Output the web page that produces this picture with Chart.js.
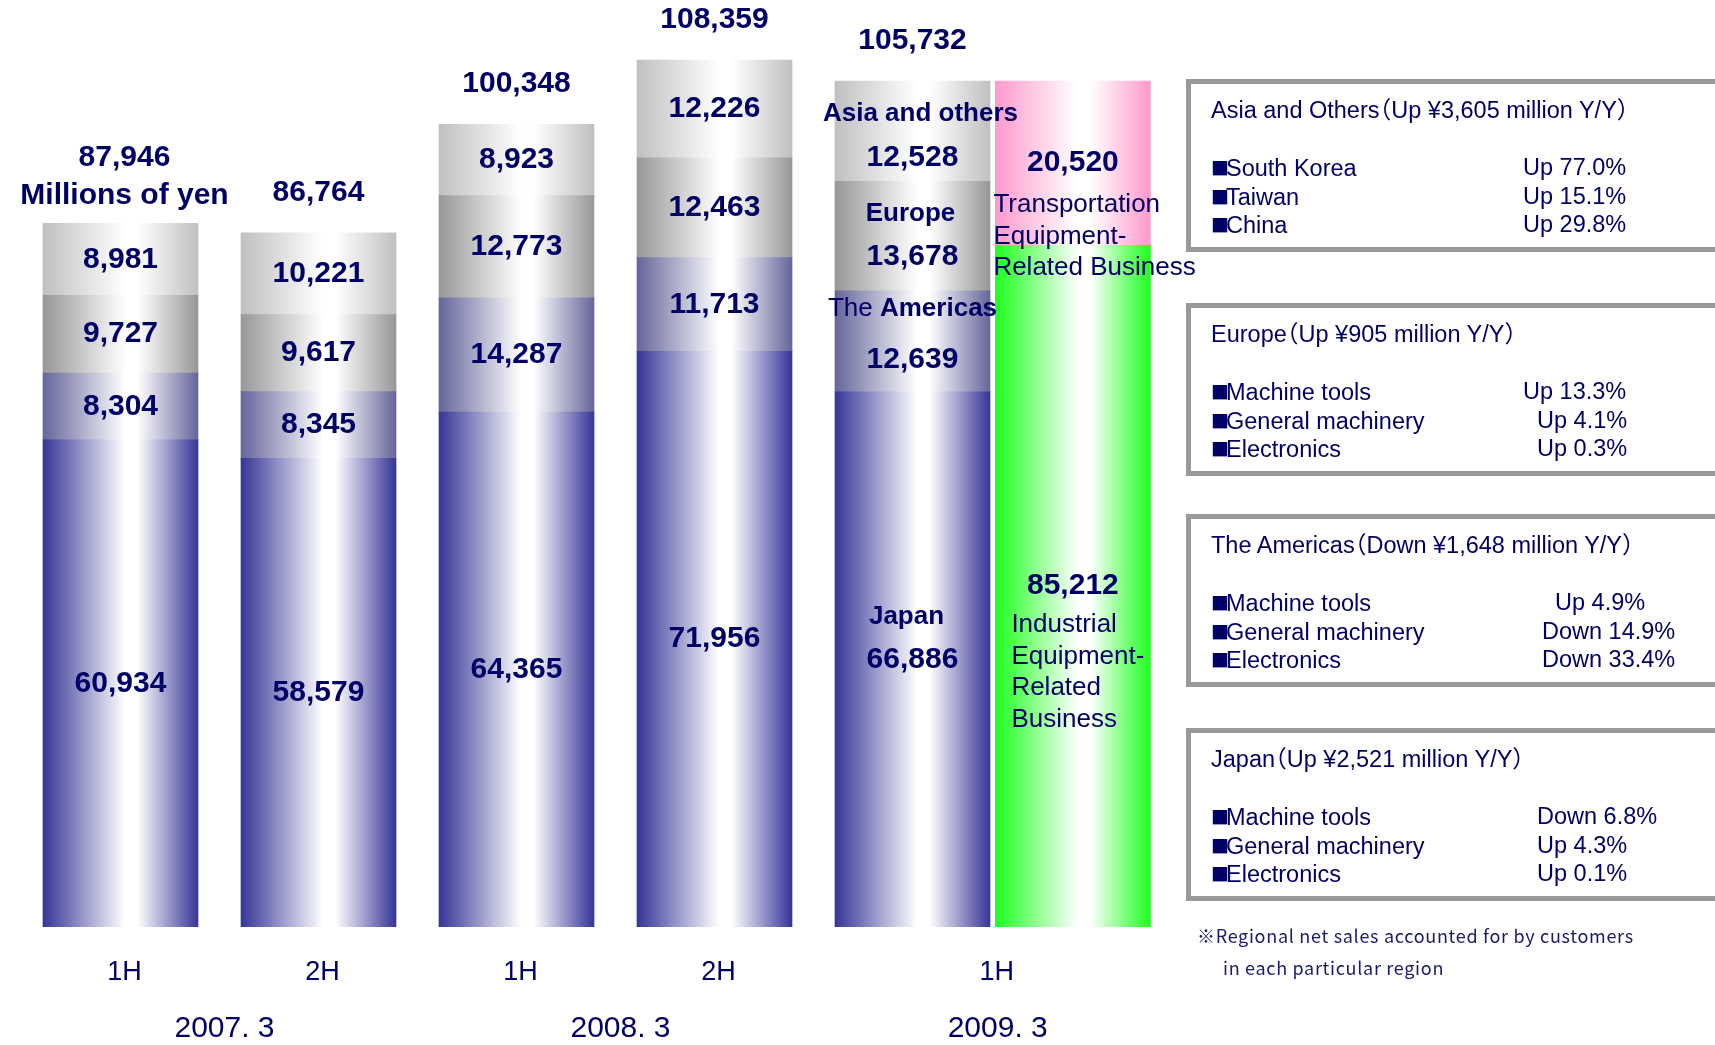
<!DOCTYPE html>
<html>
<head>
<meta charset="utf-8">
<script src="https://cdn.jsdelivr.net/npm/chart.js@4.4.0/dist/chart.umd.min.js"></script>
<style>
  body { margin: 0; background: #fff; overflow: hidden; }
  #wrap { position: relative; width: 1715px; height: 1045px; overflow: hidden; }
  #wrap canvas { position: absolute; left: 0; top: 0; }
  .box { position: absolute; left: 1186px; width: 640px; height: 173px; border: 5px solid #999; box-sizing: border-box; }
  .note { position: absolute; font-family: "Liberation Sans", "Noto Sans CJK JP", sans-serif; font-size: 23.5px;
          line-height: 28px; color: #000066; white-space: nowrap; font-feature-settings: "halt"; }
  .note .sq { font-family: "Noto Sans CJK JP", sans-serif; font-size: 18px; margin-right: -3px; vertical-align: 1px; }
  .foot { position: absolute; font-family: "Noto Sans CJK JP", sans-serif; font-size: 18px; line-height: 24px;
          letter-spacing: 0.7px; color: #1a1a6e; white-space: nowrap; }
</style>
</head>
<body>
<div id="wrap">
  <canvas id="salesChart" width="1715" height="1045"></canvas>
</div>
<script>
// half-year periods
const halfLabels = ['1H', '2H', '1H', '2H', '1H'];
const fiscalYears = ['2007. 3', '2007. 3', '2008. 3', '2008. 3', '2009. 3'];

// regional net sales, millions of yen
const japan = [60934, 58579, 64365, 71956, 66886];
const americas = [8304, 8345, 14287, 11713, 12639];
const europe = [9727, 9617, 12773, 12463, 13678];
const asiaOthers = [8981, 10221, 8923, 12226, 12528];
const totals = [87946, 86764, 100348, 108359, 105732];

// business breakdown, only for the latest period
const businessPeriod = 4;
const industrialEquip = [85212];
const transportEquip = [20520];

const INK = '#000066';
const BAR_W = 155;
const PAIR_SHIFT = 0.81;   // business bar sits right beside the region bar
const FONT = '"Liberation Sans", Arial, sans-serif';

function barFill(edge, axis) {
    return function (c) {
        const chart = c.chart;
        if (!chart.chartArea || !c.raw) return edge;
        const cx = chart.scales[axis].getPixelForValue(c.raw.x);
        const g = chart.ctx.createLinearGradient(cx - BAR_W / 2, 0, cx + BAR_W / 2, 0);
        g.addColorStop(0, edge);
        g.addColorStop(0.53, '#ffffff');
        g.addColorStop(0.61, '#ffffff');
        g.addColorStop(1, edge);
        return g;
    };
}

function regionSet(label, values, edge, name, nameDx, nameDy, valueDy) {
    return {
        label: label,
        data: values.map((v, i) => ({ x: i, y: v })),
        xAxisID: 'x',
        backgroundColor: barFill(edge, 'x'),
        regionName: name, nameDx: nameDx, nameDy: nameDy, valueDy: valueDy
    };
}

function businessSet(label, values, edge, lines, dx, dy) {
    return {
        label: label,
        data: values.map(v => ({ x: businessPeriod, y: v })),
        xAxisID: 'x2',
        backgroundColor: barFill(edge, 'x2'),
        business: true, nameLines: lines, nameDx: dx, nameDy: dy
    };
}

const fmt = v => v.toLocaleString('en-US');

const labelPlugin = {
    id: 'barLabels',
    afterDatasetsDraw(chart) {
        const ctx = chart.ctx;
        ctx.save();
        ctx.fillStyle = INK;
        ctx.textBaseline = 'middle';
        chart.data.datasets.forEach((ds, di) => {
            const meta = chart.getDatasetMeta(di);
            meta.data.forEach((el, i) => {
                const v = ds.data[i].y;
                const mid = (el.y + el.base) / 2;
                ctx.textAlign = 'center';
                if (ds.business) {
                    ctx.font = 'bold 30px ' + FONT;
                    ctx.fillText(fmt(v), el.x, mid);
                    ctx.font = '26px ' + FONT;
                    ctx.textAlign = 'left';
                    ds.nameLines.forEach((t, k) => {
                        ctx.fillText(t, el.x - BAR_W / 2 + ds.nameDx, mid + ds.nameDy + k * 31.5);
                    });
                    return;
                }
                if (i === businessPeriod) {
                    // region names in the latest bar
                    let w = 0;
                    ds.regionName.forEach(p => { ctx.font = p[1] + ' 26px ' + FONT; w += ctx.measureText(p[0]).width; });
                    let x = el.x - w / 2 + ds.nameDx;
                    ctx.textAlign = 'left';
                    ds.regionName.forEach(p => {
                        ctx.font = p[1] + ' 26px ' + FONT;
                        ctx.fillText(p[0], x, mid + ds.nameDy);
                        x += ctx.measureText(p[0]).width;
                    });
                    ctx.textAlign = 'center';
                    ctx.font = 'bold 30px ' + FONT;
                    ctx.fillText(fmt(v), el.x, mid + ds.valueDy);
                } else {
                    ctx.font = 'bold 30px ' + FONT;
                    ctx.fillText(fmt(v), el.x, mid);
                }
                if (ds.label === 'Asia and others') {
                    ctx.font = 'bold 30px ' + FONT;
                    if (i === 0) {
                        ctx.fillText('Millions of yen', el.x + 4, el.y - 28);
                        ctx.fillText(fmt(totals[i]), el.x + 4, el.y - 66);
                    } else {
                        ctx.fillText(fmt(totals[i]), el.x, el.y - 40);
                    }
                }
            });
        });

        // period labels under the bars
        const xs = halfLabels.map((_, i) => {
            let px = chart.scales.x.getPixelForValue(i);
            if (i === businessPeriod) px = (px + chart.scales.x2.getPixelForValue(i)) / 2;
            return px;
        });
        ctx.textAlign = 'center';
        ctx.font = '27px ' + FONT;
        halfLabels.forEach((t, i) => ctx.fillText(t, xs[i] + 4, 973));
        ctx.font = '30px ' + FONT;
        let start = 0;
        for (let i = 1; i <= fiscalYears.length; i++) {
            if (i === fiscalYears.length || fiscalYears[i] !== fiscalYears[start]) {
                const cx = (xs[start] + xs[i - 1]) / 2;
                ctx.fillText(fiscalYears[start], cx + 5, 1029);
                start = i;
            }
        }
        ctx.restore();
    }
};

const salesChart = new Chart(document.getElementById('salesChart').getContext('2d'), {
    type: 'bar',
    data: {
        datasets: [
            regionSet('Japan', japan, '#353597', [['Japan', 'bold']], -6, -43, 0),
            regionSet('The Americas', americas, '#65659b', [['The ', 'normal'], ['Americas', 'bold']], 0, -33, 18),
            regionSet('Europe', europe, '#979797', [['Europe', 'bold']], -2, -22, 21),
            regionSet('Asia and others', asiaOthers, '#c0c0c0', [['Asia and others', 'bold']], 8, -17, 26),
            businessSet('Industrial', industrialEquip, '#1eff1e', ['Industrial', 'Equipment-', 'Related', 'Business'], 16, 39),
            businessSet('Transportation', transportEquip, '#ff99cc', ['Transportation', 'Equipment-', 'Related Business'], -2, 42)
        ]
    },
    options: {
        responsive: false,
        animation: false,
        devicePixelRatio: 1,
        layout: { padding: { left: 21.5, right: 505.5, top: 7, bottom: 118 } },
        datasets: { bar: { barThickness: BAR_W, borderWidth: 0, grouped: false } },
        plugins: { legend: { display: false }, tooltip: { enabled: false } },
        scales: {
            x: { type: 'linear', min: -0.5, max: 5.5, bounds: 'data', offset: false, display: false },
            x2: { type: 'linear', min: -0.5 - PAIR_SHIFT, max: 5.5 - PAIR_SHIFT, bounds: 'data', offset: false, display: false },
            y: { min: 0, max: 115000, stacked: true, display: false }
        }
    },
    plugins: [labelPlugin]
});

// notes on the right
const notes = [
    { top: 79, title: 'Asia and Others（Up ¥3,605 million Y/Y）',
      rows: [['South Korea', 'Up 77.0%', 1523], ['Taiwan', 'Up 15.1%', 1523], ['China', 'Up 29.8%', 1523]] },
    { top: 303, title: 'Europe（Up ¥905 million Y/Y）',
      rows: [['Machine tools', 'Up 13.3%', 1523], ['General machinery', 'Up 4.1%', 1537], ['Electronics', 'Up 0.3%', 1537]] },
    { top: 514, title: 'The Americas（Down ¥1,648 million Y/Y）',
      rows: [['Machine tools', 'Up 4.9%', 1555], ['General machinery', 'Down 14.9%', 1542], ['Electronics', 'Down 33.4%', 1542]] },
    { top: 728, title: 'Japan（Up ¥2,521 million Y/Y）',
      rows: [['Machine tools', 'Down 6.8%', 1537], ['General machinery', 'Up 4.3%', 1537], ['Electronics', 'Up 0.1%', 1537]] }
];
const wrap = document.getElementById('wrap');
function addText(cls, text, left, cy, lh, bullet) {
    const d = document.createElement('div');
    d.className = cls;
    if (bullet) {
        const s = document.createElement('span');
        s.className = 'sq';
        s.textContent = '■';
        d.appendChild(s);
    }
    d.appendChild(document.createTextNode(text));
    d.style.left = left + 'px';
    d.style.top = (cy - lh / 2) + 'px';
    wrap.appendChild(d);
}
notes.forEach(n => {
    const b = document.createElement('div');
    b.className = 'box';
    b.style.top = n.top + 'px';
    wrap.appendChild(b);
    addText('note', n.title, 1211, n.top + 31, 28);
    n.rows.forEach((r, k) => {
        const cy = n.top + 88 + k * 28.5;
        addText('note', r[0], 1211, cy, 28, true);
        addText('note', r[1], r[2], cy, 28);
    });
});
addText('foot', '※Regional net sales accounted for by customers', 1197, 935, 24);
addText('foot', 'in each particular region', 1223, 967, 24);
</script>
</body>
</html>
